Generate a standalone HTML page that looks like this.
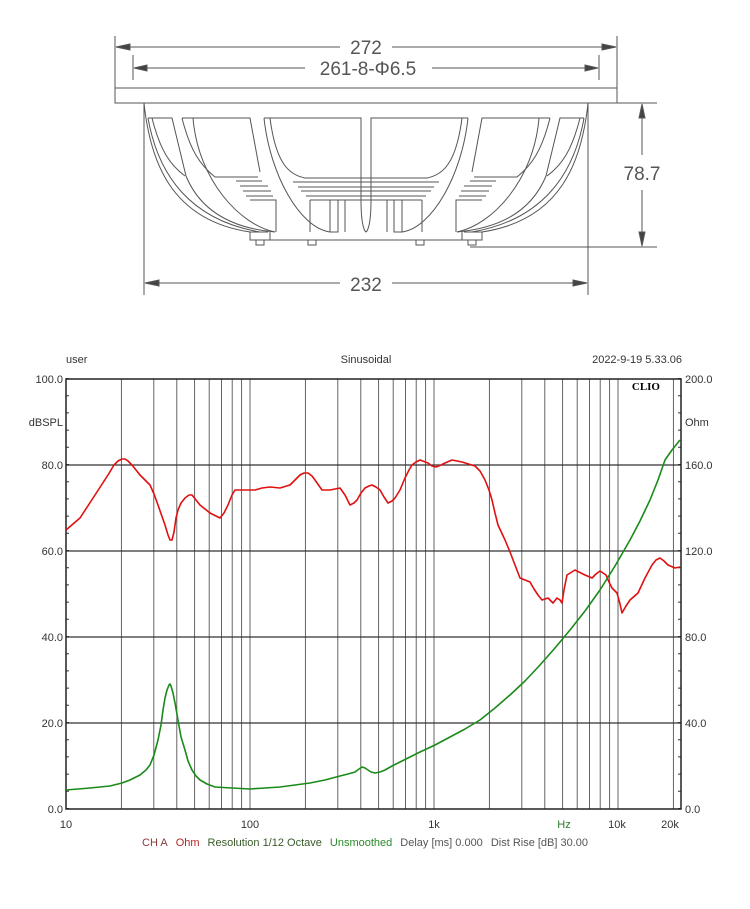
<!DOCTYPE html>
<html><head><meta charset="utf-8"><style>
html,body{margin:0;padding:0;background:#fff;}
body{width:750px;height:909px;overflow:hidden;position:relative;font-family:"Liberation Sans",sans-serif;}
</style></head><body>
<svg width="750" height="909" viewBox="0 0 750 909" xmlns="http://www.w3.org/2000/svg" style="position:absolute;left:0;top:0">
<g stroke="#555" fill="none" stroke-width="1">
 <line x1="115" y1="36" x2="115" y2="88"/><line x1="617" y1="36" x2="617" y2="88"/>
 <line x1="116" y1="47" x2="340" y2="47"/><line x1="392" y1="47" x2="616" y2="47"/>
 <polygon points="116,47 130,44 130,50" fill="#444"/><polygon points="616,47 602,44 602,50" fill="#444"/>
 <line x1="133" y1="55" x2="133" y2="80"/><line x1="599" y1="55" x2="599" y2="80"/>
 <line x1="134" y1="68" x2="305" y2="68"/><line x1="432" y1="68" x2="598" y2="68"/>
 <polygon points="134,68 147,65 147,71" fill="#444"/><polygon points="598,68 585,65 585,71" fill="#444"/>
 <rect x="115" y="88" width="502" height="15"/>
 <line x1="144" y1="103" x2="144" y2="295"/><line x1="588" y1="103" x2="588" y2="295"/>
 <line x1="145" y1="283" x2="340" y2="283"/><line x1="392" y1="283" x2="587" y2="283"/>
 <polygon points="145,283 159,280 159,286" fill="#444"/><polygon points="587,283 573,280 573,286" fill="#444"/>
 <line x1="590" y1="103" x2="657" y2="103"/><line x1="470" y1="247" x2="657" y2="247"/>
 <line x1="642" y1="104" x2="642" y2="155"/><line x1="642" y1="190" x2="642" y2="246"/>
 <polygon points="642,104 639,118 645,118" fill="#444"/><polygon points="642,246 639,232 645,232" fill="#444"/>
 <g id="half">
  <path d="M144,103 C150,160 170,220 250,232 L268,232"/>
  <path d="M148,118 C158,175 190,220 260,232"/>
  <path d="M148,118 L172,118 L186,176"/>
  <path d="M152,118 C160,150 170,165 185,176"/>
  <path d="M182,118 L250,118 L260,172"/>
  <path d="M182,118 C190,150 200,165 215,177 L258,177"/>
  <path d="M186,176 C200,210 230,228 275,232"/>
  <path d="M193,118 C198,180 240,225 275,232"/>
  <path d="M264,118 C270,175 300,228 330,232 L338,232 L338,200"/>
  <path d="M270,118 C276,165 290,175 305,178 L366,178"/>
  <path d="M264,118 L361,118 L361,176"/>
  <path d="M236,181 L262,181 M240,186 L268,186 M243,191 L271,191 M246,196 L273,196 M250,200 L276,200 L276,232"/>
  <path d="M293,182 L366,182 M298,187 L366,187 M301,191 L366,191 M306,196 L366,196 M310,200 L366,200"/>
  <path d="M310,200 L310,232 M330,200 L330,232 M345,200 L345,232"/>
  <path d="M250,232 L250,240 L366,240 M270,232 L270,240"/>
  <path d="M256,240 L256,245 L264,245 L264,240 M308,240 L308,245 L316,245 L316,240"/>
  <path d="M361,176 L361,200 C361,230 366,232 366,232"/>
 </g>
 <use href="#half" transform="translate(732,0) scale(-1,1)"/>
</g>
<g font-family="Liberation Sans, sans-serif" font-size="19" fill="#555" text-anchor="middle">
 <text x="366" y="54">272</text>
 <text x="368" y="75">261-8-Φ6.5</text>
 <text x="366" y="291">232</text>
 <text x="642" y="180">78.7</text>
</g>

<g font-family="Liberation Sans, sans-serif" font-size="11" fill="#333">
 <text x="66" y="363">user</text>
 <text x="366" y="363" text-anchor="middle">Sinusoidal</text>
 <text x="682" y="363" text-anchor="end">2022-9-19 5.33.06</text>
 <g text-anchor="end">
  <text x="63" y="383">100.0</text><text x="63" y="426">dBSPL</text>
  <text x="63" y="469">80.0</text><text x="63" y="555">60.0</text>
  <text x="63" y="641">40.0</text><text x="63" y="727">20.0</text><text x="63" y="813">0.0</text>
 </g>
 <g>
  <text x="685" y="383">200.0</text><text x="685" y="426">Ohm</text>
  <text x="685" y="469">160.0</text><text x="685" y="555">120.0</text>
  <text x="685" y="641">80.0</text><text x="685" y="727">40.0</text><text x="685" y="813">0.0</text>
 </g>
 <g text-anchor="middle">
  <text x="66" y="828">10</text><text x="250" y="828">100</text><text x="434" y="828">1k</text>
  <text x="564" y="828" fill="#2a7a2a">Hz</text><text x="617" y="828">10k</text><text x="670" y="828">20k</text>
 </g>
 <text x="142" y="846"><tspan fill="#8a3a3a">CH A</tspan><tspan fill="#b22" dx="8">Ohm</tspan><tspan fill="#3a5a2a" dx="8">Resolution 1/12 Octave</tspan><tspan fill="#2a8a2a" dx="8">Unsmoothed</tspan><tspan fill="#555" dx="8">Delay [ms] 0.000</tspan><tspan fill="#555" dx="8">Dist Rise [dB] 30.00</tspan></text>
</g>
<path stroke="#555" stroke-width="0.9" fill="none" d="M121.4,379V809M153.8,379V809M176.8,379V809M194.6,379V809M209.2,379V809M221.5,379V809M232.2,379V809M241.6,379V809M250,379V809M305.4,379V809M337.8,379V809M360.8,379V809M378.6,379V809M393.2,379V809M405.5,379V809M416.2,379V809M425.6,379V809M434,379V809M489.4,379V809M521.8,379V809M544.8,379V809M562.6,379V809M577.2,379V809M589.5,379V809M600.2,379V809M609.6,379V809M618,379V809M673.4,379V809"/>
<path stroke="#333" stroke-width="1.2" fill="none" d="M66,465H681M66,551H681M66,637H681M66,723H681"/>
<line x1="67.5" y1="809" x2="67.5" y2="378" stroke="#333" stroke-width="3" stroke-dasharray="1 16.2"/>
<line x1="679.5" y1="809" x2="679.5" y2="378" stroke="#333" stroke-width="3" stroke-dasharray="1 16.2"/>
<path stroke="#333" stroke-width="1" d="M66,465h5M66,551h5M66,637h5M66,723h5M681,465h-5M681,551h-5M681,637h-5M681,723h-5"/>
<rect x="66" y="379" width="615" height="430" fill="none" stroke="#222" stroke-width="1.5"/>
<rect x="628" y="381" width="34" height="12" fill="#fff"/>
<text x="660" y="390" font-family="Liberation Serif, serif" font-weight="bold" font-size="11" fill="#000" text-anchor="end">CLIO</text>
<polyline fill="none" stroke="#e01010" stroke-width="1.6" stroke-linejoin="round" points="66,530 80,518 95,495 108,475 114,465 118,461 122,459 125,459 128,461 132,465 140,475 145,480 150,485 154,494 158,505 165,525 168,535 170,540 172,540 174,532 176,518 178,510 181,503 185,498 189,495 192,495 196,500 200,505 210,513 220,518 224,513 228,505 232,495 235,490 245,490 255,490 262,488 270,487 280,488 290,485 295,480 300,475 304,473 308,473 312,476 315,480 322,490 330,490 340,488 345,495 350,505 354,503 357,500 361,493 365,488 369,486 372,485 376,487 380,490 384,497 388,503 392,501 395,498 400,490 405,478 409,470 412,465 416,462 420,460 428,463 432,466 436,467 441,465 445,463 452,460 462,462 475,466 480,471 485,480 489,490 492,500 495,513 498,525 505,540 510,552 515,565 520,578 530,582 534,589 538,595 542,600 545,599 548,598 553,603 557,598 560,600 562,603 564,590 567,575 575,570 585,575 592,578 596,574 600,571 606,575 609,582 612,588 617,593 620,604 622,613 626,606 630,600 638,593 645,578 652,565 656,560 660,558 664,561 668,565 675,568 680,567"/>
<polyline fill="none" stroke="#1a8a1a" stroke-width="1.6" stroke-linejoin="round" points="66,790 90,788 110,786 122,783 130,780 140,775 146,770 150,765 154,755 158,740 161,725 163,710 165,698 167,690 169,685 170,684 171,686 173,693 175,703 178,720 181,737 185,750 188,761 192,770 196,776 200,780 207,784 215,787 232,788 250,789 265,788 280,787 295,785 310,783 325,780 340,776 348,774 355,772 359,769 362,767 365,768 368,770 371,772 375,773 380,772 385,770 392,766 400,762 410,757 420,752 435,745 450,737 465,729 480,720 495,708 510,695 525,681 540,665 555,648 570,630 585,611 600,590 615,566 630,540 640,521 650,500 658,480 665,460 672,450 680,440"/>
</svg>
</body></html>
